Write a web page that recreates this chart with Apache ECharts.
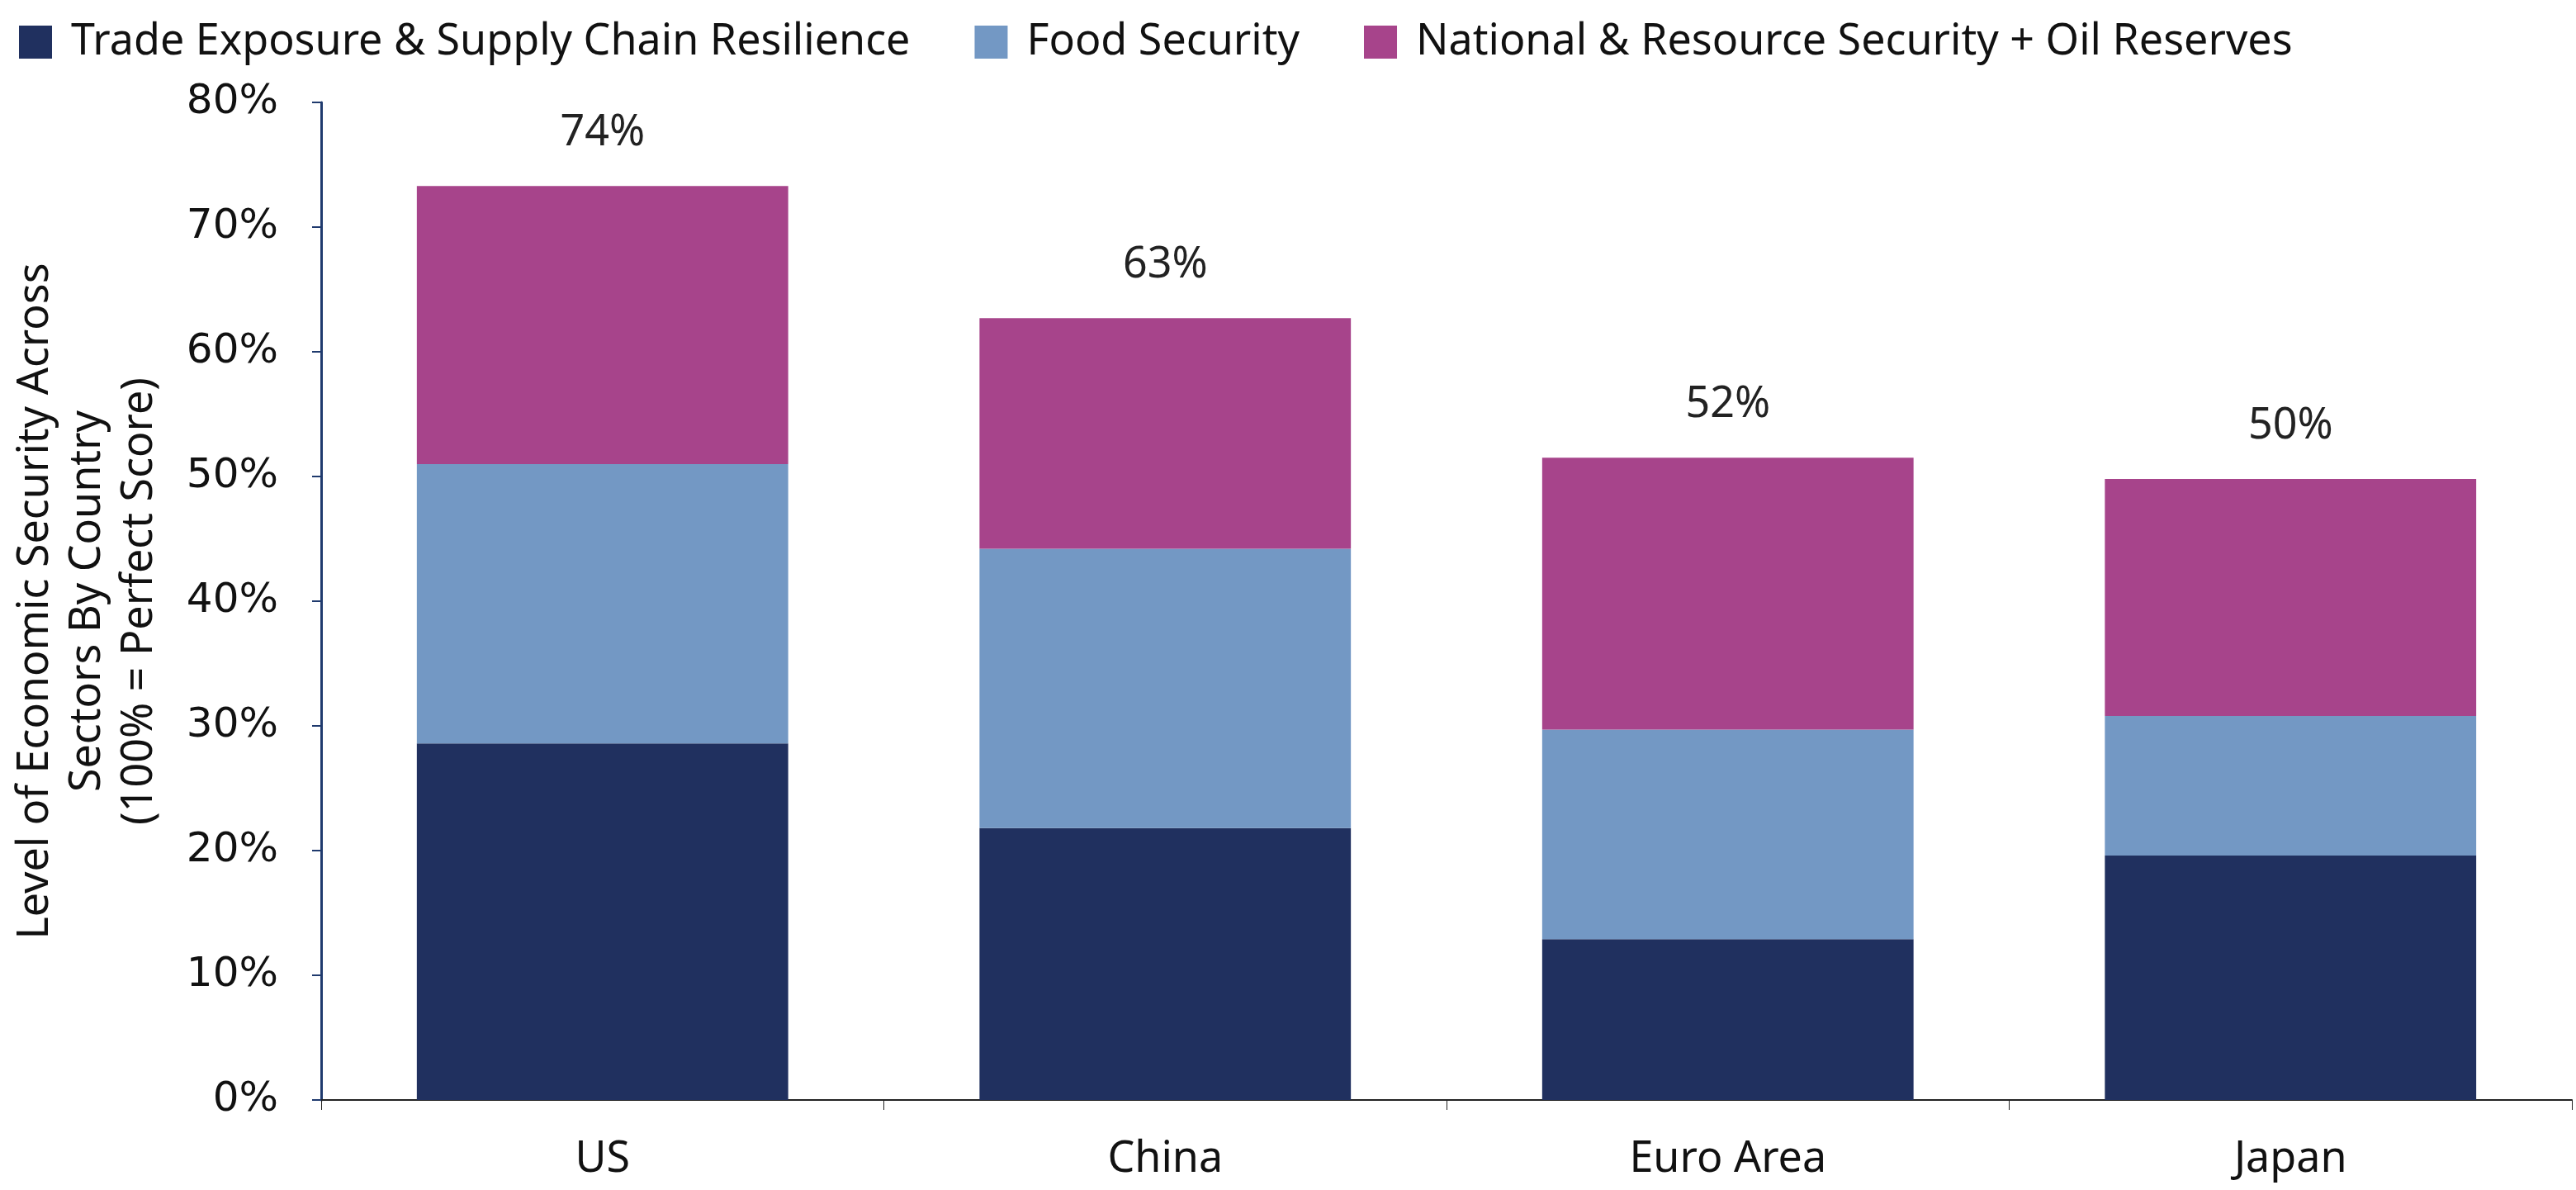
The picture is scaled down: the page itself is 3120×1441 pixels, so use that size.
<!DOCTYPE html>
<html>
<head>
<meta charset="utf-8">
<script src="https://cdn.jsdelivr.net/npm/echarts@6/dist/echarts.min.js"></script>
<style>
  html, body { margin: 0; padding: 0; background: #fff; }
  #chart { width: 3120px; height: 1441px; }
</style>
</head>
<body>
<div id="chart"></div>
<script>
// data
const countries = ["US", "China", "Euro Area", "Japan"];
const tradeExposure = [28.6, 21.8, 12.9, 19.6];
const foodSecurity = [22.4, 22.4, 16.8, 11.2];
const nationalResource = [22.3, 18.5, 21.8, 19.0];
const totalLabels = ["74%", "63%", "52%", "50%"];
const yTicks = [0, 10, 20, 30, 40, 50, 60, 70, 80];

const FONT = '"Noto Sans", sans-serif';
const TICK_FONT = '"DejaVu Sans", sans-serif';
const NAVY = "#20305f";
const BLUE = "#7398c4";
const MAGENTA = "#a7448b";

const chart = echarts.init(document.getElementById("chart"));

chart.setOption({
  animation: false,
  textStyle: { fontFamily: FONT },
  legend: {
    left: 18,
    top: 20,
    itemWidth: 40,
    itemHeight: 40,
    itemGap: 78,
    icon: "rect",
    textStyle: { fontFamily: FONT, fontSize: 52, color: "#111", padding: [0, 0, 0, 18] },
    data: ["Trade Exposure & Supply Chain Resilience", "Food Security", "National & Resource Security + Oil Reserves"],
  },
  grid: { left: 389, right: 5, top: 124, bottom: 109 },
  xAxis: {
    type: "category",
    data: countries,
    axisLine: { lineStyle: { color: "#222", width: 2 } },
    axisTick: { show: true, length: 12, lineStyle: { color: "#222", width: 1 } },
    axisLabel: { fontFamily: FONT, fontSize: 52, color: "#111", margin: 46 },
  },
  yAxis: {
    type: "value",
    min: yTicks[0],
    max: yTicks[yTicks.length - 1],
    interval: 10,
    name: "Level of Economic Security Across\nSectors By Country\n(100% = Perfect Score)",
    nameLocation: "middle",
    nameRotate: 90,
    nameGap: 188,
    nameTextStyle: { fontFamily: FONT, fontSize: 52, lineHeight: 63, color: "#111" },
    axisLine: { show: true, lineStyle: { color: "#1f3a6e", width: 3 } },
    axisTick: { show: true, inside: false, length: 11, lineStyle: { color: "#1f3a6e", width: 2 } },
    splitLine: { show: false },
    axisLabel: { fontFamily: TICK_FONT, fontSize: 50, color: "#111", margin: 52, formatter: "{value}%" },
  },
  series: [
    {
      name: "Trade Exposure & Supply Chain Resilience",
      type: "bar",
      stack: "total",
      barWidth: "66%",
      itemStyle: { color: NAVY },
      data: tradeExposure,
    },
    {
      name: "Food Security",
      type: "bar",
      stack: "total",
      itemStyle: { color: BLUE },
      data: foodSecurity,
    },
    {
      name: "National & Resource Security + Oil Reserves",
      type: "bar",
      stack: "total",
      itemStyle: { color: MAGENTA },
      data: nationalResource,
      label: {
        show: true,
        position: "top",
        distance: 38,
        fontFamily: FONT,
        fontSize: 52,
        color: "#222",
        formatter: (p) => totalLabels[p.dataIndex],
      },
    },
  ],
});
</script>
</body>
</html>
